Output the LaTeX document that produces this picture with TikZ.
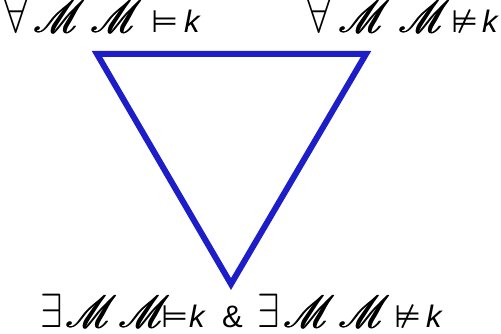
\RequirePackage{fix-cm}
\documentclass[tikz,border=0pt]{standalone}
\usepackage{fontspec}
\setmainfont{Liberation Sans}
\newfontfamily\symfont{DejaVu Sans}
\usepackage{mathrsfs}
\usepackage{graphicx}
\newcommand{\oneM}{\scalebox{1.65}[1.8]{$\mathscr{M}$}}
\newcommand{\bM}{\rlap{\oneM}\kern0.6pt\rlap{\oneM}\kern0.6pt\oneM}
\newcommand{\fa}{\scalebox{1.35}[1.55]{$\forall$}}
\newcommand{\ex}{\scalebox{1.3}[1.55]{$\exists$}}
\newcommand{\mo}{{\symfont ⊨}}
\newcommand{\nmo}{{\symfont ⊭}}
\newcommand{\kk}{\textit{k}}
\newcommand{\at}[2]{\rlap{\hskip#1pt #2}}
\definecolor{triblue}{RGB}{30,30,200}
\begin{document}
\begin{tikzpicture}[x=1pt,y=-1pt,
  lbl/.style={inner sep=0pt, anchor=base west, font=\fontsize{31}{36}\selectfont},
  tri/.style={draw=triblue, line width=6pt, line join=miter}]
\useasboundingbox (0,0) rectangle (501,334);
\coordinate (tl) at (97,54);
\coordinate (tr) at (366,54);
\coordinate (bt) at (231,284);
\draw[tri] (tl) -- (tr) -- (bt) -- cycle;
\node[lbl] (lt) at (0,33) {\at{4}{\fa}\at{33}{\bM}\at{90}{\bM}\at{151}{\mo}\at{184}{\kk}\hphantom{x}};
\node[lbl] (rt) at (300,33) {\at{7}{\fa}\at{38}{\bM}\at{98}{\bM}\at{151}{\nmo}\at{182}{\kk}\hphantom{x}};
\node[lbl] (bo) at (30,327) {\at{10}{\ex}\at{35}{\bM}\at{88}{\bM}\at{131}{\mo}\at{159}{\kk}\at{192}{\&}\at{227}{\ex}\at{253}{\bM}\at{308}{\bM}\at{364}{\nmo}\at{396}{\kk}\hphantom{x}};
\end{tikzpicture}
\end{document}
